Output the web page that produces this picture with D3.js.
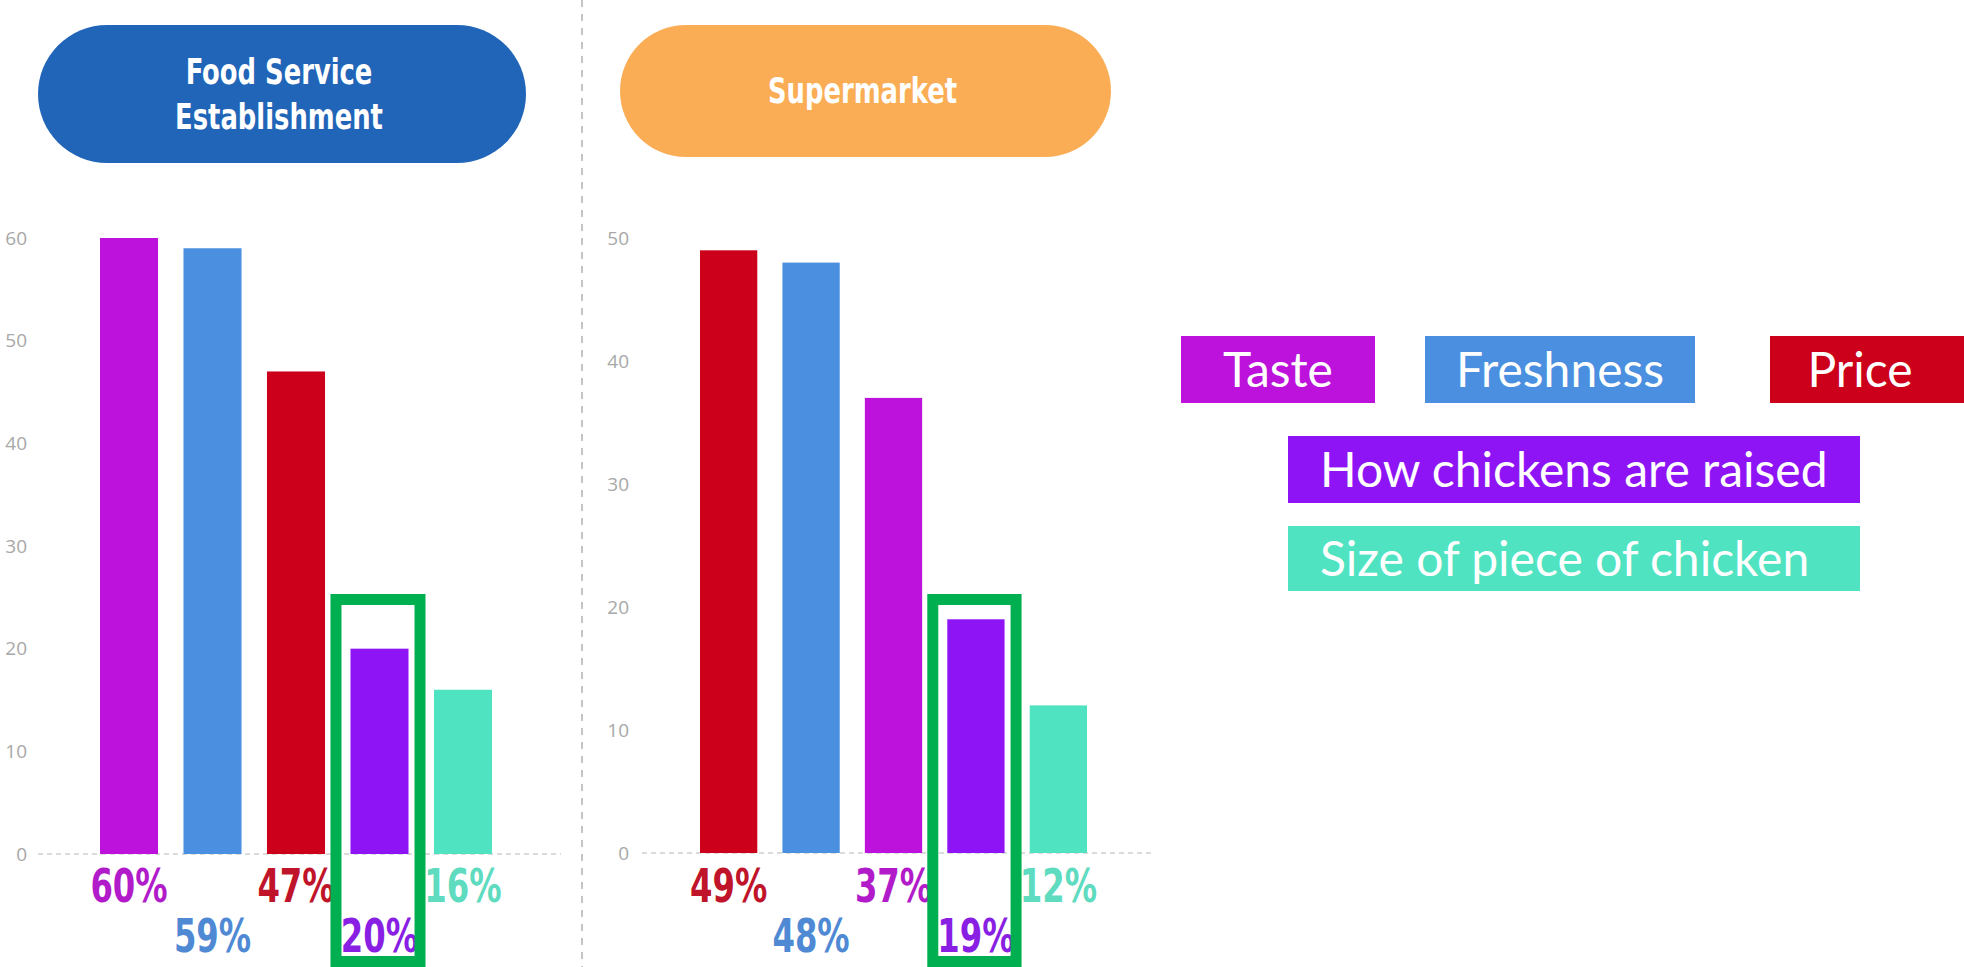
<!DOCTYPE html>
<html>
<head>
<meta charset="utf-8">
<script src="https://cdn.jsdelivr.net/npm/d3@7/dist/d3.min.js"></script>
<style>
  body { margin: 0; background: #fff; }
  svg { display: block; }
</style>
</head>
<body>
<svg id="chart" width="1964" height="967"></svg>
<script>
// ---- data ----
const categories = ["Taste", "Freshness", "Price", "How chickens are raised", "Size of piece of chicken"];
const categoryColors = ["#BC12DB", "#4A8FE0", "#CC001B", "#8E14F6", "#50E3C2"];
const labelColors = ["#B21BC9", "#4F89D4", "#C0142A", "#8A1FE4", "#5FDBC0"];

const foodServiceCategories = ["Taste", "Freshness", "Price", "How chickens are raised", "Size of piece of chicken"];
const foodServiceValues = [60, 59, 47, 20, 16];
const foodServiceTicks = [0, 10, 20, 30, 40, 50, 60];

const supermarketCategories = ["Price", "Freshness", "Taste", "How chickens are raised", "Size of piece of chicken"];
const supermarketValues = [49, 48, 37, 19, 12];
const supermarketTicks = [0, 10, 20, 30, 40, 50];

const foodServiceTitle = ["Food Service", "Establishment"];
const supermarketTitle = ["Supermarket"];
const highlightedCategory = "How chickens are raised";

// ---- layout ----
const svg = d3.select("#chart");
const colorOf = d3.scaleOrdinal().domain(categories).range(categoryColors);
const labelColorOf = d3.scaleOrdinal().domain(categories).range(labelColors);

const headFont = "'Liberation Sans Narrow', 'Arial Narrow', 'DejaVu Sans Condensed', sans-serif";

const panels = [
  {
    title: foodServiceTitle, titleFill: "#2065B8",
    pill: { x: 38, y: 25, w: 488, h: 138 }, titleBaselines: [84, 129],
    cats: foodServiceCategories, values: foodServiceValues, ticks: foodServiceTicks,
    yRange: [854, 238], xRange: [100, 492], baseline: [38, 561], tickX: 27
  },
  {
    title: supermarketTitle, titleFill: "#FBAD55",
    pill: { x: 620, y: 25, w: 491, h: 132 }, titleBaselines: [103],
    cats: supermarketCategories, values: supermarketValues, ticks: supermarketTicks,
    yRange: [853, 238], xRange: [700, 1087], baseline: [642, 1155], tickX: 629
  }
];

// vertical divider between the two panels
svg.append("line")
  .attr("x1", 582).attr("x2", 582).attr("y1", 0).attr("y2", 967)
  .attr("stroke", "#c4c4c4").attr("stroke-width", 2)
  .attr("stroke-dasharray", "7,7");

panels.forEach(p => {
  const g = svg.append("g");

  // title pill
  g.append("rect")
    .attr("x", p.pill.x).attr("y", p.pill.y)
    .attr("width", p.pill.w).attr("height", p.pill.h)
    .attr("rx", p.pill.h / 2).attr("ry", p.pill.h / 2)
    .attr("fill", p.titleFill);
  p.title.forEach((line, i) => {
    g.append("text")
      .attr("transform", `translate(${p.pill.x + p.pill.w / 2 - 3},${p.titleBaselines[i]}) scale(0.82,1)`)
      .attr("text-anchor", "middle")
      .attr("fill", "#fff")
      .attr("font-family", headFont)
      .attr("font-weight", "bold")
      .attr("font-size", 35)
      .text(line);
  });

  const domainMax = d3.max(p.ticks);
  const y = d3.scaleLinear().domain([0, domainMax]).range(p.yRange);
  const x = d3.scaleBand().domain(p.cats).range(p.xRange).paddingInner(0.305).paddingOuter(0);

  // y tick labels (no axis line)
  const axis = d3.axisLeft(y).tickValues(p.ticks).tickSize(0).tickPadding(0);
  const ax = g.append("g").attr("transform", `translate(${p.tickX},0)`).call(axis);
  ax.select(".domain").remove();
  ax.selectAll("text")
    .attr("fill", "#a8a8a8")
    .attr("font-family", "'Open Sans', sans-serif")
    .attr("font-size", 19);

  // zero line
  g.append("line")
    .attr("x1", p.baseline[0]).attr("x2", p.baseline[1])
    .attr("y1", y(0)).attr("y2", y(0))
    .attr("stroke", "#cfcfcf").attr("stroke-width", 1.5)
    .attr("stroke-dasharray", "5,4");

  const rows = p.cats.map((c, i) => ({ cat: c, value: p.values[i], i }));

  // bars
  g.selectAll("rect.bar").data(rows).join("rect")
    .attr("class", "bar")
    .attr("x", d => x(d.cat))
    .attr("width", x.bandwidth())
    .attr("y", d => y(d.value))
    .attr("height", d => y(0) - y(d.value))
    .attr("fill", d => colorOf(d.cat));

  // value labels, staggered on two rows
  g.selectAll("text.val").data(rows).join("text")
    .attr("class", "val")
    .attr("transform", d => `translate(${x(d.cat) + x.bandwidth() / 2},${d.i % 2 === 0 ? 902 : 952}) scale(0.78,1)`)
    .attr("text-anchor", "middle")
    .attr("fill", d => labelColorOf(d.cat))
    .attr("font-family", headFont)
    .attr("font-weight", "bold")
    .attr("font-size", 46)
    .text(d => d.value + "%");

  // highlight frame around the "how chickens are raised" column
  const hx = x(highlightedCategory);
  const sw = 11;
  g.append("rect")
    .attr("x", hx - 20 + sw / 2)
    .attr("y", 594 + sw / 2)
    .attr("width", x.bandwidth() + 37 - sw)
    .attr("height", 967 - 594 - sw)
    .attr("fill", "none")
    .attr("stroke", "#00B050")
    .attr("stroke-width", sw);
});

// ---- legend ----
const legendBoxes = [
  { x: 1181, y: 336, w: 194, h: 67, anchor: "middle" },
  { x: 1425, y: 336, w: 270, h: 67, anchor: "middle" },
  { x: 1770, y: 336, w: 200, h: 67, anchor: "middle" },
  { x: 1288, y: 436, w: 572, h: 67, anchor: "start" },
  { x: 1288, y: 526, w: 572, h: 65, anchor: "start" }
];
const legend = svg.append("g");
categories.forEach((c, i) => {
  const b = legendBoxes[i];
  legend.append("rect")
    .attr("x", b.x).attr("y", b.y).attr("width", b.w).attr("height", b.h)
    .attr("fill", colorOf(c));
  legend.append("text")
    .attr("x", b.anchor === "middle" ? (i === 2 ? 1860 : b.x + b.w / 2) : b.x + 32)
    .attr("y", b.y + b.h / 2 + 17)
    .attr("text-anchor", b.anchor)
    .attr("fill", "#fff")
    .attr("font-family", "Lato, 'Open Sans', sans-serif")
    .attr("font-weight", 400)
    .attr("font-size", 48)
    .text(c);
});
</script>
</body>
</html>
